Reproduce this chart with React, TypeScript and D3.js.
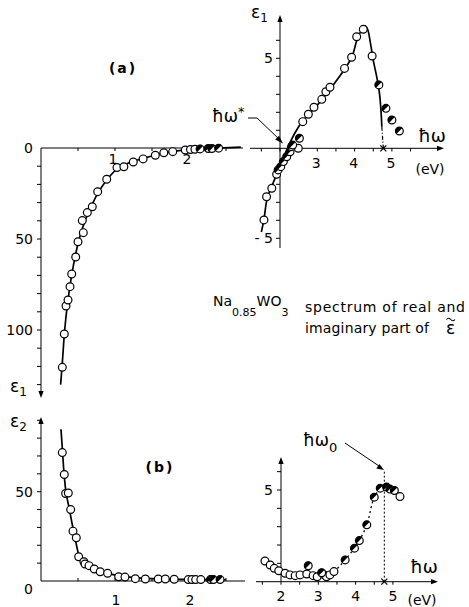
import React from "react";
import * as d3 from "d3";

// (a) left: real part at low energy (drawn downward)
const tlOpenE = [0.288, 0.315, 0.338, 0.365, 0.392, 0.415, 0.469, 0.5, 0.558, 0.572, 0.626, 0.693, 0.766, 0.888, 1.027, 1.12, 1.247, 1.38, 1.545, 1.66, 1.78, 1.95, 2.02, 2.08];
const tlOpenEps = [-120.5, -102.2, -86.8, -83.5, -76.2, -69.2, -59.9, -51.5, -39.9, -46.5, -35.5, -32.3, -24, -17.2, -10.7, -10.3, -7.7, -6, -4, -2.6, -2, -1.1, -0.8, -0.7];
const tlHalfE = [2.15, 2.26, 2.31, 2.4];
const tlHalfEps = [-0.5, -0.3, -0.3, -0.1];
const tlFitE = [0.265, 0.29, 0.32, 0.36, 0.41, 0.47, 0.53, 0.6, 0.68, 0.78, 0.9, 1.03, 1.2, 1.4, 1.6, 1.8, 2.0, 2.3, 2.7];
const tlFitEps = [-130, -117, -100, -85, -71, -58, -48, -39.5, -32, -24, -17, -11.5, -8, -5.5, -3.3, -1.8, -0.9, -0.3, 0.5];

// (b) left: imaginary part at low energy
const blOpenE = [0.288, 0.315, 0.333, 0.369, 0.401, 0.432, 0.477, 0.509, 0.58, 0.595, 0.649, 0.72, 0.8, 0.9, 1.05, 1.135, 1.275, 1.41, 1.585, 1.68, 1.8, 1.99, 2.04, 2.09, 2.16];
const blOpenEps = [71.9, 59.6, 49, 49.3, 40, 27.9, 24.2, 13.6, 10.8, 9.5, 8.6, 6.7, 5.2, 4.3, 2.4, 2.2, 1.3, 1.1, 1.1, 1.1, 0.95, 0.8, 0.8, 0.8, 0.8];
const blHalfE = [2.29, 2.33, 2.42];
const blHalfEps = [0.8, 0.8, 0.8];
const blFitE = [0.27, 0.29, 0.31, 0.34, 0.38, 0.43, 0.48, 0.52, 0.57, 0.65, 0.75, 0.9, 1.05, 1.3, 1.6, 2.0, 2.5];
const blFitEps = [85, 73, 61, 49, 41, 30, 20, 13.5, 10.5, 8.4, 6.2, 4.3, 3.0, 1.8, 1.2, 0.9, 0.7];

// (a) right: real part near the plasma edge
const trOpenE = [1.57, 1.64, 1.78, 1.91, 2.49, 2.61, 2.76, 2.91, 3.12, 3.23, 3.34, 3.73, 3.92, 4.056, 4.233, 4.47];
const trOpenEps = [-3.98, -2.69, -2.22, -1.44, 0, 1.48, 1.89, 2.28, 2.72, 3.14, 3.39, 4.44, 5.06, 6.2, 6.61, 5.13];
const trHalfE = [1.95, 2.02, 2.09, 2.18, 2.27, 2.31, 2.34, 2.52, 4.65, 4.84, 5.0, 5.2];
const trHalfEps = [-1.2, -1.02, -0.74, -0.47, -0.19, 0.09, 0.18, 0.56, 3.52, 2.22, 1.57, 0.96];
const trFitE = [1.5, 1.57, 1.64, 1.72, 1.8, 1.9, 2.0, 2.1, 2.2, 2.3, 2.4, 2.5, 2.6, 2.8, 3.0, 3.2, 3.4, 3.6, 3.8, 3.95, 4.06, 4.18, 4.28, 4.35, 4.42, 4.5, 4.6, 4.67, 4.71, 4.73];
const trFitEps = [-4.65, -3.95, -2.95, -2.4, -2.0, -1.5, -1.0, -0.5, 0.0, 0.45, 0.85, 1.2, 1.5, 1.95, 2.4, 2.9, 3.45, 4.0, 4.6, 5.2, 6.0, 6.55, 6.8, 6.6, 5.9, 4.9, 3.9, 3.0, 2.0, 1.2];
const trDashE = [4.73, 4.77];
const trDashEps = [1.2, 0];

// (b) right: imaginary part near the plasma edge
const brOpenE = [1.57, 1.71, 1.82, 1.94, 2.11, 2.24, 2.38, 2.51, 2.69, 2.86, 2.97, 3.16, 3.22, 3.31, 3.42, 5.19];
const brOpenEps = [1.13, 0.91, 0.73, 0.6, 0.46, 0.37, 0.33, 0.37, 0.42, 0.33, 0.27, 0.37, 0.27, 0.37, 0.55, 4.64];
const brHalfE = [2.73, 3.09, 3.72, 3.97, 4.1, 4.3, 4.5, 4.66, 4.83, 4.92, 5.04];
const brHalfEps = [0.87, 0.49, 1.19, 1.83, 2.24, 3.1, 4.61, 5.1, 5.16, 5.05, 4.97];
const brFitE = [3.3, 3.5, 3.72, 3.97, 4.1, 4.3, 4.5, 4.66, 4.8];
const brFitEps = [0.4, 0.7, 1.19, 1.83, 2.24, 3.1, 4.6, 5.05, 5.2];

const plasmaE = 4.77;
const font = "DejaVu Sans, sans-serif";

const xL = d3.scaleLinear().domain([0, 1]).range([41, 115]);
const yTL = d3.scaleLinear().domain([0, -100]).range([148, 330]);
const yBL = d3.scaleLinear().domain([0, 50]).range([581, 491.7]);
const xTR = d3.scaleLinear().domain([2, 3]).range([280, 317.3]);
const yTR = d3.scaleLinear().domain([0, 5]).range([148.3, 58.3]);
const xBR = d3.scaleLinear().domain([2, 3]).range([281, 318.3]);
const yBR = d3.scaleLinear().domain([0, 5]).range([581.7, 490]);

const R = 3.9;

const Open = ({ x, y }) => (
  <circle cx={x} cy={y} r={R} fill="white" stroke="black" strokeWidth={1.2} />
);

const Half = ({ x, y }) => {
  const k = R * 0.7071;
  return (
    <g>
      <circle cx={x} cy={y} r={R} fill="white" />
      <path d={`M${x - k},${y + k} A${R},${R} 0 0 1 ${x + k},${y - k} Z`} fill="black" />
      <circle cx={x} cy={y} r={R} fill="none" stroke="black" strokeWidth={1.2} />
    </g>
  );
};

const arrowHead = (x, y, dir) => {
  // small filled triangle, tip at (x,y)
  const l = 7, w = 2.6;
  if (dir === "up") return `M${x},${y} L${x - w},${y + l} L${x + w},${y + l} Z`;
  if (dir === "down") return `M${x},${y} L${x - w},${y - l} L${x + w},${y - l} Z`;
  return `M${x},${y} L${x - l},${y - w} L${x - l},${y + w} Z`;
};

const Dots = ({ es, vs, xs, ys, half }) => (
  <g>
    {es.map((e, i) =>
      half ? <Half key={i} x={xs(e)} y={ys(vs[i])} /> : <Open key={i} x={xs(e)} y={ys(vs[i])} />
    )}
  </g>
);

const fitPath = (es, vs, xs, ys, curve = d3.curveCatmullRom) =>
  d3
    .line()
    .x(d => xs(d[0]))
    .y(d => ys(d[1]))
    .curve(curve)(es.map((e, i) => [e, vs[i]]));

const App = () => {
  const tlTicks = d3.range(10, 131, 10);
  const blTicks = d3.range(10, 91, 10);
  const lxTicks = d3.range(0.5, 2.6, 0.5);
  const trYTicks = d3.range(-5, 7, 1);
  const brYTicks = d3.range(1, 7, 1);
  const trXTicks = d3.range(1.5, 5.6, 0.5);
  const brXTicks = d3.range(1.5, 5.1, 0.5);

  const txt = { fontFamily: font, fill: "black" };

  return (
    <svg
      width={469}
      height={607}
      style={{ position: "absolute", left: 0, top: 0, background: "white" }}
    >
      {/* ---------- top left: -eps1 downward ---------- */}
      <g stroke="black" strokeWidth={1}>
        <line x1={41} y1={148} x2={41} y2={392} />
        <line x1={41} y1={148} x2={243} y2={148} />
        {tlTicks.map(t => (
          <line key={t} x1={37} x2={41} y1={yTL(-t)} y2={yTL(-t)} />
        ))}
        {lxTicks.map(t => (
          <line key={t} x1={xL(t)} x2={xL(t)} y1={148} y2={151} />
        ))}
      </g>
      <path d={arrowHead(41, 398, "down")} fill="black" />
      {[0, 50, 100].map(t => (
        <text key={t} x={33} y={yTL(-t) + 5} textAnchor="end" fontSize={14} style={txt}>
          {t}
        </text>
      ))}
      {[1, 2].map(t => (
        <text key={t} x={xL(t) - 2} y={164} textAnchor="middle" fontSize={14} style={txt}>
          {t}
        </text>
      ))}
      <text x={10} y={392} fontSize={17} style={txt}>
        ε<tspan fontSize={12} dy={4}>1</tspan>
      </text>
      <path d={fitPath(tlFitE, tlFitEps, xL, yTL)} fill="none" stroke="black" strokeWidth={1.7} />
      <Dots es={tlOpenE} vs={tlOpenEps} xs={xL} ys={yTL} />
      <Dots es={tlHalfE} vs={tlHalfEps} xs={xL} ys={yTL} half />
      <text x={123} y={73} textAnchor="middle" fontSize={14} fontWeight="bold" letterSpacing={2} style={txt}>
        (a)
      </text>

      {/* ---------- bottom left: eps2 ---------- */}
      <g stroke="black" strokeWidth={1}>
        <line x1={41} y1={581} x2={41} y2={424} />
        <line x1={41} y1={581} x2={245} y2={581} />
        {blTicks.map(t => (
          <line key={t} x1={37} x2={41} y1={yBL(t)} y2={yBL(t)} />
        ))}
        {lxTicks.map(t => (
          <line key={t} x1={xL(t)} x2={xL(t)} y1={581} y2={578} />
        ))}
      </g>
      <path d={arrowHead(41, 417, "up")} fill="black" />
      {[0, 50].map(t => (
        <text key={t} x={33} y={yBL(t) + (t === 0 ? 13 : 5)} textAnchor="end" fontSize={14} style={txt}>
          {t}
        </text>
      ))}
      {[1, 2].map(t => (
        <text key={t} x={xL(t) + 1} y={605} textAnchor="middle" fontSize={14} style={txt}>
          {t}
        </text>
      ))}
      <text x={10} y={427} fontSize={17} style={txt}>
        ε<tspan fontSize={12} dy={4}>2</tspan>
      </text>
      <path d={fitPath(blFitE, blFitEps, xL, yBL)} fill="none" stroke="black" strokeWidth={1.7} />
      <Dots es={blOpenE} vs={blOpenEps} xs={xL} ys={yBL} />
      <Dots es={blHalfE} vs={blHalfEps} xs={xL} ys={yBL} half />
      <text x={160} y={472} textAnchor="middle" fontSize={14} fontWeight="bold" letterSpacing={2} style={txt}>
        (b)
      </text>

      {/* ---------- top right: eps1 ---------- */}
      <g stroke="black" strokeWidth={1}>
        <line x1={280} y1={248} x2={280} y2={22} />
        <line x1={250} y1={148.3} x2={437} y2={148.3} />
        {trYTicks.filter(t => t !== 0).map(t => (
          <line key={t} x1={276} x2={280} y1={yTR(t)} y2={yTR(t)} />
        ))}
        {trXTicks.map(t => (
          <line key={t} x1={xTR(t)} x2={xTR(t)} y1={148.3} y2={151.5} />
        ))}
      </g>
      <path d={arrowHead(280, 15, "up")} fill="black" />
      <path d={arrowHead(444, 148.3, "right")} fill="black" />
      <text x={273} y={yTR(5) + 5} textAnchor="end" fontSize={14} style={txt}>5</text>
      <text x={273} y={yTR(-5) + 5} textAnchor="end" fontSize={14} style={txt}>- 5</text>
      {[3, 4, 5].map(t => (
        <text key={t} x={xTR(t) - 1} y={168} textAnchor="middle" fontSize={14} style={txt}>
          {t}
        </text>
      ))}
      <text x={251} y={18} fontSize={17} style={txt}>
        ε<tspan fontSize={12} dy={4}>1</tspan>
      </text>
      <text x={432} y={142} textAnchor="middle" fontSize={18} style={txt}>ħω</text>
      <text x={430} y={174} textAnchor="middle" fontSize={14} style={txt}>(eV)</text>
      <path d={fitPath(trFitE, trFitEps, xTR, yTR)} fill="none" stroke="black" strokeWidth={1.7} />
      <path
        d={fitPath(trDashE, trDashEps, xTR, yTR, d3.curveLinear)}
        fill="none"
        stroke="black"
        strokeWidth={1.2}
        strokeDasharray="4 2 1 2"
      />
      <Dots es={trOpenE} vs={trOpenEps} xs={xTR} ys={yTR} />
      <Dots es={trHalfE} vs={trHalfEps} xs={xTR} ys={yTR} half />
      <g stroke="black" strokeWidth={1.2}>
        <line x1={xTR(plasmaE) - 3} x2={xTR(plasmaE) + 3} y1={145.3} y2={151.3} />
        <line x1={xTR(plasmaE) - 3} x2={xTR(plasmaE) + 3} y1={151.3} y2={145.3} />
      </g>
      {/* hw* pointer */}
      <text x={212} y={122} fontSize={17} style={txt}>
        ħω<tspan fontSize={13} dy={-6}>*</tspan>
      </text>
      <path d="M248,118 L257,118 L279,139" fill="none" stroke="black" strokeWidth={1} />
      <path d="M283,143.5 L275.2,139.6 L279,135.8 Z" fill="black" />

      {/* ---------- bottom right: eps2 ---------- */}
      <g stroke="black" strokeWidth={1}>
        <line x1={281} y1={581.7} x2={281} y2={464} />
        <line x1={256} y1={581.7} x2={431} y2={581.7} />
        {brYTicks.map(t => (
          <line key={t} x1={277} x2={281} y1={yBR(t)} y2={yBR(t)} />
        ))}
        {brXTicks.map(t => (
          <line key={t} x1={xBR(t)} x2={xBR(t)} y1={581.7} y2={584.7} />
        ))}
      </g>
      <path d={arrowHead(281, 457, "up")} fill="black" />
      <path d={arrowHead(438, 581.7, "right")} fill="black" />
      <text x={273} y={yBR(5) + 5} textAnchor="end" fontSize={14} style={txt}>5</text>
      {[2, 3, 4, 5].map(t => (
        <text key={t} x={xBR(t)} y={601} textAnchor="middle" fontSize={14} style={txt}>
          {t}
        </text>
      ))}
      <text x={424} y={573} textAnchor="middle" fontSize={18} style={txt}>ħω</text>
      <text x={422} y={605} textAnchor="middle" fontSize={14} style={txt}>(eV)</text>
      <line
        x1={xBR(plasmaE)}
        x2={xBR(plasmaE)}
        y1={581.7}
        y2={470}
        stroke="black"
        strokeWidth={1}
        strokeDasharray="2 2"
      />
      <path
        d={fitPath(brFitE, brFitEps, xBR, yBR)}
        fill="none"
        stroke="black"
        strokeWidth={1.3}
        strokeDasharray="2 3"
      />
      <Dots es={brOpenE} vs={brOpenEps} xs={xBR} ys={yBR} />
      <Dots es={brHalfE} vs={brHalfEps} xs={xBR} ys={yBR} half />
      <g stroke="black" strokeWidth={1.2}>
        <line x1={xBR(plasmaE) - 3} x2={xBR(plasmaE) + 3} y1={578.7} y2={584.7} />
        <line x1={xBR(plasmaE) - 3} x2={xBR(plasmaE) + 3} y1={584.7} y2={578.7} />
      </g>
      {/* hw0 pointer */}
      <text x={303} y={446} fontSize={17} style={txt}>
        ħω<tspan fontSize={13} dy={6}>0</tspan>
      </text>
      <path d="M345,443 L379,466" fill="none" stroke="black" strokeWidth={1} />
      <path d="M384,470 L376.3,468.5 L379.4,463.9 Z" fill="black" />

      {/* ---------- caption ---------- */}
      <text x={213} y={306} fontSize={14} style={txt}>
        Na<tspan fontSize={11} dy={10}>0.85</tspan>
        <tspan fontSize={14} dy={-10}>WO</tspan>
        <tspan fontSize={11} dy={10}>3</tspan>
      </text>
      <text x={305} y={312} fontSize={14} textLength={160} lengthAdjust="spacing" style={txt}>
        spectrum of real and
      </text>
      <text x={305} y={333} fontSize={14} textLength={124} lengthAdjust="spacing" style={txt}>
        imaginary part of
      </text>
      <text x={446} y={334} fontSize={17} style={txt}>ε</text>
      <path d="M446.5,319.5 q2,-2.6 4.2,0 t4.2,0" fill="none" stroke="black" strokeWidth={1.1} />
    </svg>
  );
};

export default App;
